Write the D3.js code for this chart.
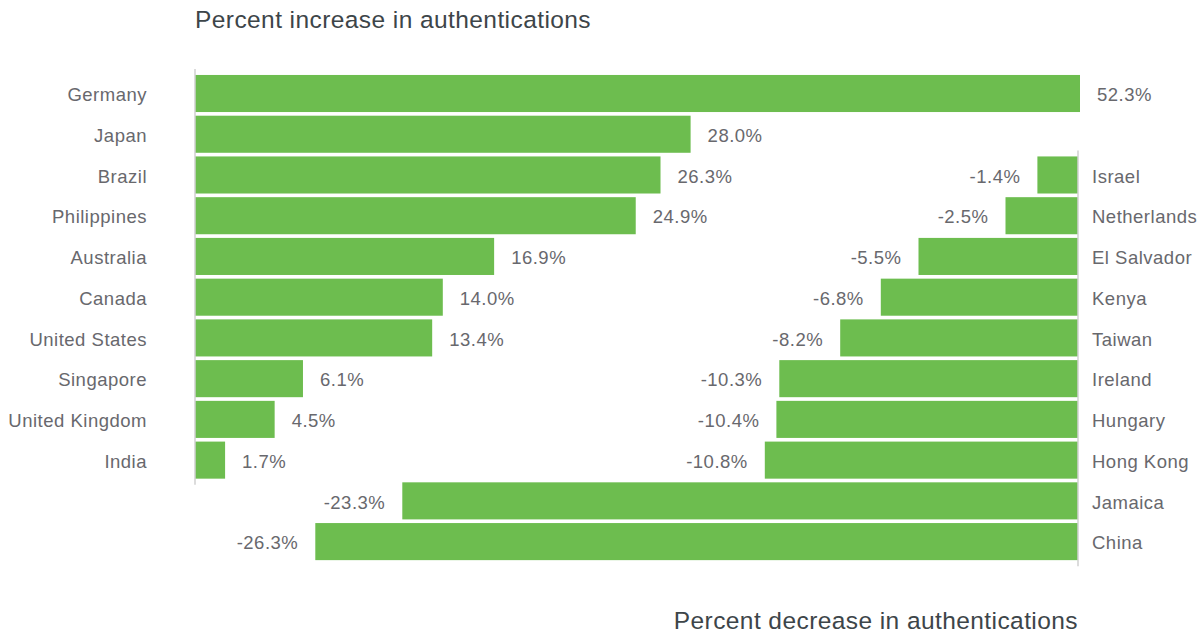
<!DOCTYPE html>
<html>
<head>
<meta charset="utf-8">
<script src="https://cdn.jsdelivr.net/npm/d3@7"></script>
<style>
  html, body { margin: 0; padding: 0; background: #fff; }
  svg text { font-family: "Liberation Sans", Arial, sans-serif; }
</style>
</head>
<body>
<svg id="chart" width="1200" height="633"></svg>
<script>
// Countries with a rise in authentications (left-anchored bars)
const increaseCountries = ["Germany", "Japan", "Brazil", "Philippines", "Australia", "Canada",
  "United States", "Singapore", "United Kingdom", "India"];
const increaseValues = [52.3, 28.0, 26.3, 24.9, 16.9, 14.0, 13.4, 6.1, 4.5, 1.7];

// Countries with a fall in authentications (right-anchored bars), starting on row 3
const decreaseCountries = ["Israel", "Netherlands", "El Salvador", "Kenya", "Taiwan", "Ireland",
  "Hungary", "Hong Kong", "Jamaica", "China"];
const decreaseValues = [-1.4, -2.5, -5.5, -6.8, -8.2, -10.3, -10.4, -10.8, -23.3, -26.3];
const decreaseStartRow = 2;

const titleTop = "Percent increase in authentications";
const titleBottom = "Percent decrease in authentications";

const green = "#6dbd4f";
const labelColor = "#68686d";
const titleColor = "#3d4549";
const axisColor = "#d0d0d0";

const svg = d3.select("#chart");
const rowCount = 12;

const y = d3.scaleBand()
  .domain(d3.range(rowCount))
  .range([71.3, 563.8])
  .paddingInner(0.09)
  .paddingOuter(0.09);

const leftAxisX = 195;
const rightAxisX = 1078;

// Positive scale capped at 50%, so larger values run to the edge
const xPos = d3.scaleLinear().domain([0, 50]).range([leftAxisX, 1080]).clamp(true);
// Negative scale grows leftwards from the right axis
const xNeg = d3.scaleLinear().domain([-27, 0]).range([rightAxisX - 27 * 29, rightAxisX]);

const fmt = v => v.toFixed(1) + "%";

const incData = increaseCountries.map((c, i) => ({ country: c, value: increaseValues[i], row: i }));
const decData = decreaseCountries.map((c, i) => ({ country: c, value: decreaseValues[i], row: i + decreaseStartRow }));

// Titles
svg.append("text")
  .attr("x", leftAxisX).attr("y", 28)
  .attr("font-size", 24.5).attr("letter-spacing", 0.42).attr("fill", titleColor)
  .text(titleTop);

svg.append("text")
  .attr("x", rightAxisX).attr("y", 629)
  .attr("text-anchor", "end")
  .attr("font-size", 24.5).attr("letter-spacing", 0.42).attr("fill", titleColor)
  .text(titleBottom);

// Increase bars
svg.append("g").selectAll("rect").data(incData).join("rect")
  .attr("x", xPos(0))
  .attr("y", d => y(d.row))
  .attr("width", d => xPos(d.value) - xPos(0))
  .attr("height", y.bandwidth())
  .attr("fill", green);

// Decrease bars
svg.append("g").selectAll("rect").data(decData).join("rect")
  .attr("x", d => xNeg(d.value))
  .attr("y", d => y(d.row))
  .attr("width", d => xNeg(0) - xNeg(d.value))
  .attr("height", y.bandwidth())
  .attr("fill", green);

// Baselines
const incRows = d3.extent(incData, d => d.row);
const decRows = d3.extent(decData, d => d.row);
svg.append("line")
  .attr("x1", leftAxisX).attr("x2", leftAxisX)
  .attr("y1", y(incRows[0]) - 6).attr("y2", y(incRows[1]) + y.bandwidth() + 6)
  .attr("stroke", axisColor).attr("stroke-width", 1.5);
svg.append("line")
  .attr("x1", rightAxisX).attr("x2", rightAxisX)
  .attr("y1", y(decRows[0]) - 6).attr("y2", y(decRows[1]) + y.bandwidth() + 6)
  .attr("stroke", axisColor).attr("stroke-width", 1.5);

const labelSize = 18.5;
const labelSpacing = 0.5;

// Country names
svg.append("g").selectAll("text").data(incData).join("text")
  .attr("x", 147)
  .attr("y", d => y(d.row) + y.bandwidth() / 2)
  .attr("dy", "0.42em")
  .attr("text-anchor", "end")
  .attr("font-size", labelSize).attr("letter-spacing", labelSpacing).attr("fill", labelColor)
  .text(d => d.country);

svg.append("g").selectAll("text").data(decData).join("text")
  .attr("x", 1092)
  .attr("y", d => y(d.row) + y.bandwidth() / 2)
  .attr("dy", "0.42em")
  .attr("font-size", labelSize).attr("letter-spacing", labelSpacing).attr("fill", labelColor)
  .text(d => d.country);

// Value labels
svg.append("g").selectAll("text").data(incData).join("text")
  .attr("x", d => xPos(d.value) + 17)
  .attr("y", d => y(d.row) + y.bandwidth() / 2)
  .attr("dy", "0.42em")
  .attr("font-size", labelSize).attr("letter-spacing", labelSpacing).attr("fill", labelColor)
  .text(d => fmt(d.value));

svg.append("g").selectAll("text").data(decData).join("text")
  .attr("x", d => xNeg(d.value) - 17)
  .attr("y", d => y(d.row) + y.bandwidth() / 2)
  .attr("dy", "0.42em")
  .attr("text-anchor", "end")
  .attr("font-size", labelSize).attr("letter-spacing", labelSpacing).attr("fill", labelColor)
  .text(d => fmt(d.value));
</script>
</body>
</html>
